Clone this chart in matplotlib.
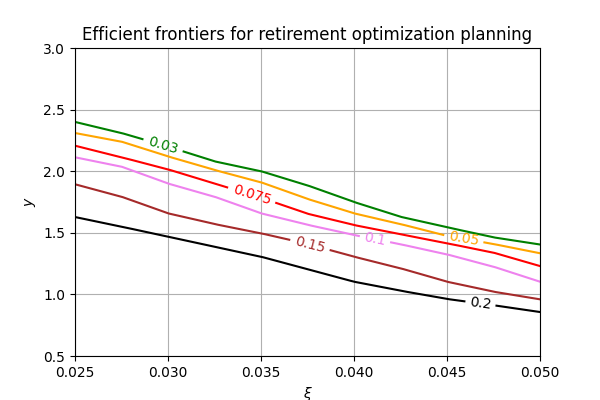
import numpy as np
import matplotlib
matplotlib.use("Agg")
import matplotlib.pyplot as plt

xi = [0.025, 0.0275, 0.030, 0.0325, 0.035, 0.0375, 0.040, 0.0425, 0.045, 0.0475, 0.050]

levels = ["0.03", "0.05", "0.075", "0.1", "0.15", "0.2"]
colors = ["green", "orange", "red", "violet", "brown", "black"]

y_003 = [2.40, 2.31, 2.20, 2.08, 2.00, 1.885, 1.75, 1.63, 1.545, 1.463, 1.405]
y_005 = [2.31, 2.24, 2.12, 2.01, 1.91, 1.775, 1.658, 1.571, 1.475, 1.409, 1.334]
y_0075 = [2.207, 2.113, 2.015, 1.90, 1.785, 1.655, 1.563, 1.488, 1.415, 1.339, 1.23]
y_01 = [2.113, 2.037, 1.90, 1.793, 1.658, 1.565, 1.482, 1.407, 1.325, 1.225, 1.103]
y_015 = [1.894, 1.793, 1.658, 1.571, 1.496, 1.41, 1.306, 1.212, 1.103, 1.022, 0.96]
y_02 = [1.628, 1.55, 1.468, 1.387, 1.306, 1.205, 1.103, 1.03, 0.963, 0.912, 0.857]

series = [y_003, y_005, y_0075, y_01, y_015, y_02]
label_x = [0.02973, 0.04590, 0.03450, 0.04113, 0.03763, 0.04680]

fig, ax = plt.subplots(figsize=(6, 4), dpi=100)
ax.set_xlim(0.025, 0.050)
ax.set_ylim(0.5, 3.0)
ax.set_xticks([0.025, 0.030, 0.035, 0.040, 0.045, 0.050])
ax.set_yticks([0.5, 1.0, 1.5, 2.0, 2.5, 3.0])
ax.grid(True)
ax.set_axisbelow(True)
ax.set_xlabel(r"$\xi$")
ax.set_ylabel(r"$y$")
ax.set_title("Efficient frontiers for retirement optimization planning")
fig.subplots_adjust(left=0.125, right=0.9, bottom=0.11, top=0.88)

fig.canvas.draw()
renderer = fig.canvas.get_renderer()
trans = ax.transData

xs = np.linspace(xi[0], xi[-1], 2000)
for ys, lev, col, lx in zip(series, levels, colors, label_x):
    yd = np.interp(xs, xi, ys)
    ly = np.interp(lx, xi, ys)
    # slope in display coordinates
    p0 = trans.transform((lx - 0.0008, np.interp(lx - 0.0008, xi, ys)))
    p1 = trans.transform((lx + 0.0008, np.interp(lx + 0.0008, xi, ys)))
    ang = np.degrees(np.arctan2(p1[1] - p0[1], p1[0] - p0[0]))
    t = ax.text(lx, ly, lev, color=col, fontsize=10, rotation=ang,
                rotation_mode="anchor", ha="center", va="center")
    bb = t.get_window_extent(renderer)
    disp = trans.transform(np.column_stack([xs, yd]))
    cx = trans.transform((lx, ly))[0]
    # text width along the line
    w = 29 if len(lev) <= 3 else (31 if len(lev) == 4 else 37)
    w = {"0.03": 29, "0.05": 29, "0.075": 37, "0.1": 20, "0.15": 29, "0.2": 20}[lev]
    half = w / 2 + 6
    mask = np.abs(disp[:, 0] - cx) < half
    yplot = yd.copy()
    yplot[mask] = np.nan
    ax.plot(xs, yplot, color=col, lw=1.5)

fig.savefig("out.png", dpi=100)
